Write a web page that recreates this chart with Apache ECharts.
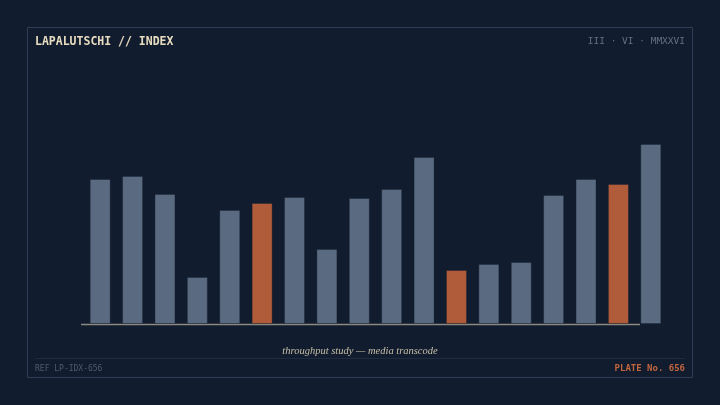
<!DOCTYPE html>
<html>
<head>
<meta charset="utf-8">
<script src="https://cdn.jsdelivr.net/npm/echarts@6/dist/echarts.min.js"></script>
<style>
  html, body { margin: 0; padding: 0; background: #111c2e; }
  #chart { width: 720px; height: 405px; }
</style>
</head>
<body>
<div id="chart"></div>
<script>
const categories = ["01", "02", "03", "04", "05", "06", "07", "08", "09", "10", "11", "12", "13", "14", "15", "16", "17", "18"];
const throughput = [145, 148, 130, 47, 114, 121, 127, 75, 126, 135, 167, 54, 60, 62, 129, 145, 140, 180];
const highlighted = [5, 11, 16];

const SLATE = "#5a6a80";
const RUST = "#b05c3a";
const mono = "'DejaVu Sans Mono', monospace";

const chart = echarts.init(document.getElementById("chart"));

chart.setOption({
  backgroundColor: "#111c2e",
  animation: false,
  grid: { left: 84, right: 53, top: 124, bottom: 81 },
  xAxis: {
    type: "category",
    data: categories,
    axisLine: { show: false },
    axisTick: { show: false },
    axisLabel: { show: false },
    splitLine: { show: false },
  },
  yAxis: {
    type: "value",
    min: 0,
    max: 200,
    show: false,
  },
  series: [
    {
      type: "bar",
      barWidth: 21,
      data: throughput.map((v, i) => ({
        value: v,
        itemStyle: { color: highlighted.includes(i) ? RUST : SLATE },
      })),
      itemStyle: { borderColor: "rgba(20,30,45,0.35)", borderWidth: 1 },
    },
  ],
  graphic: [
    // frame
    { type: "rect", shape: { x: 27.5, y: 27.5, width: 665, height: 350 }, style: { fill: null, stroke: "#2e3d55", lineWidth: 1 } },
    // footer divider
    { type: "line", shape: { x1: 35, y1: 358.5, x2: 685, y2: 358.5 }, style: { stroke: "#1f2b40", lineWidth: 1 } },
    // baseline
    { type: "line", shape: { x1: 81, y1: 324.5, x2: 640, y2: 324.5 }, style: { stroke: "#8c8a80", lineWidth: 1.5 } },
    { type: "text", left: 35, top: 36, style: { text: "LAPALUTSCHI // INDEX", fill: "#e8dcc0", font: "bold 11.5px " + mono } },
    { type: "text", right: 35, top: 37, style: { text: "III · VI · MMXXVI", fill: "#636f84", font: "9.5px " + mono } },
    { type: "text", left: "center", top: 346, style: { text: "throughput study — media transcode", fill: "#c8bfa8", font: "italic 10.5px 'Liberation Serif', serif" } },
    { type: "text", left: 35, top: 365, style: { text: "REF LP-IDX-656", fill: "#4e5c70", font: "8px " + mono } },
    { type: "text", right: 35, top: 364, style: { text: "PLATE No. 656", fill: "#c0653e", font: "bold 9px " + mono } },
  ],
});
</script>
</body>
</html>
